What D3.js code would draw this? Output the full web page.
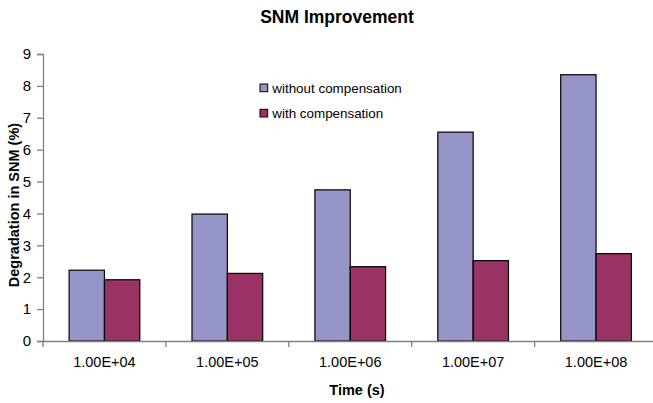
<!DOCTYPE html>
<html><head><meta charset="utf-8">
<script src="https://cdn.jsdelivr.net/npm/d3@7"></script>
<style>body{margin:0;background:#fff}svg{display:block;font-family:"Liberation Sans",Arial,sans-serif}</style>
</head><body><svg id="c" width="653" height="403"></svg>
<script>
const categories = ["1.00E+04","1.00E+05","1.00E+06","1.00E+07","1.00E+08"];
const seriesNames = ["without compensation","with compensation"];
const withoutComp = [2.22, 3.98, 4.74, 6.55, 8.35];
const withComp = [1.92, 2.12, 2.33, 2.52, 2.74];
const yTicks = [0,1,2,3,4,5,6,7,8,9];
const colors = ["#9595c9","#993366"];

(function(){
const svg = d3.select("#c");
const mLeft = 43, mTop = 54, mBottom = 341;
const x0 = d3.scaleBand().domain(categories).range([mLeft, mLeft + 5*122.9]).padding(0);
const bw = x0.bandwidth();
const x1 = d3.scaleBand().domain(seriesNames).range([bw*0.2125, bw*0.7875]).padding(0);
const y = d3.scaleLinear().domain([0,9]).range([mBottom, mTop]);

const data = categories.map((c,i)=>({c, v:[withoutComp[i], withComp[i]]}));

const g = svg.append("g");
data.forEach(d=>{
  d.v.forEach((v,j)=>{
    g.append("rect")
      .attr("x", x0(d.c)+x1(seriesNames[j]))
      .attr("y", y(v))
      .attr("width", x1.bandwidth())
      .attr("height", y(0)-y(v))
      .attr("fill", colors[j])
      .attr("stroke", "#000").attr("stroke-width", 1.2);
  });
});

const ya = svg.append("g").attr("transform",`translate(${mLeft},0)`)
  .call(d3.axisLeft(y).tickValues(yTicks).tickSize(6).tickPadding(6).tickFormat(d3.format("d")));
ya.select(".domain").attr("stroke","#808080").attr("stroke-width",1.3);
ya.selectAll(".tick line").attr("stroke","#808080").attr("stroke-width",1.3);
ya.selectAll("text").attr("font-size","15px").attr("fill","#000").attr("font-family","Liberation Sans, Arial");

const xa = svg.append("g").attr("transform",`translate(0,${mBottom})`)
  .call(d3.axisBottom(x0).tickSize(0).tickPadding(16));
xa.select(".domain").attr("stroke","#808080").attr("stroke-width",1.3);
xa.selectAll("text").attr("font-size","14.5px").attr("fill","#000").attr("font-family","Liberation Sans, Arial");
const bounds = categories.map(c=>x0(c)).concat([x0(categories[4])+bw]);
xa.selectAll(".bt").data(bounds).enter().append("line")
  .attr("x1",d=>d).attr("x2",d=>d).attr("y1",0).attr("y2",6)
  .attr("stroke","#808080").attr("stroke-width",1.3);

svg.append("text").attr("x",337).attr("y",23).attr("text-anchor","middle")
  .attr("font-size","17.5px").attr("font-weight","bold").text("SNM Improvement");
svg.append("text").attr("x",357).attr("y",395).attr("text-anchor","middle")
  .attr("font-size","14.5px").attr("font-weight","bold").text("Time (s)");
svg.append("text").attr("transform","translate(19,205) rotate(-90)").attr("text-anchor","middle")
  .attr("font-size","14.5px").attr("font-weight","bold").text("Degradation in SNM (%)");

const leg = svg.append("g");
seriesNames.forEach((s,i)=>{
  const yy = 84 + i*25.3;
  leg.append("rect").attr("x",260).attr("y",yy).attr("width",7.7).attr("height",7.7)
    .attr("fill",colors[i]).attr("stroke","#000").attr("stroke-width",1);
  leg.append("text").attr("x",272.3).attr("y",yy+9).attr("font-size","13.4px").text(s);
});
})();
</script></body></html>
